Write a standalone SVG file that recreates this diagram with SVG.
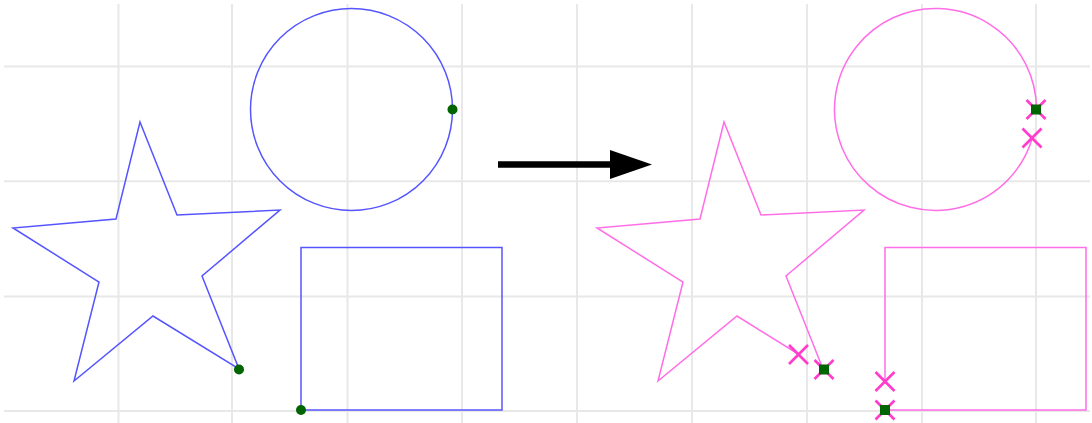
<svg xmlns="http://www.w3.org/2000/svg" width="1092" height="423" viewBox="0 0 1092 423">
<defs>
<style>
.grid line{stroke:#e8e8e8;stroke-width:2}
.src{fill:none;stroke:#5555ff;stroke-width:1.5;stroke-linejoin:miter}
.dst{fill:none;stroke:#ff6ee6;stroke-width:1.5;stroke-linejoin:miter}
.dot{fill:#006400}
.x{stroke:#ff3ccc;stroke-width:2.6;stroke-linecap:butt}
</style>
<g id="xmark"><line class="x" x1="-9.5" y1="-9.5" x2="9.5" y2="9.5"/><line class="x" x1="-9.5" y1="9.5" x2="9.5" y2="-9.5"/></g>
<rect id="sq" class="dot" x="-5" y="-5" width="10" height="10"/>
</defs>
<rect width="1092" height="423" fill="#ffffff"/>
<g class="grid" id="grid">
<line x1="118.5" y1="4" x2="118.5" y2="423"/>
<line x1="232" y1="4" x2="232" y2="423"/>
<line x1="347.5" y1="4" x2="347.5" y2="423"/>
<line x1="462" y1="4" x2="462" y2="423"/>
<line x1="577" y1="4" x2="577" y2="423"/>
<line x1="692" y1="4" x2="692" y2="423"/>
<line x1="807" y1="4" x2="807" y2="423"/>
<line x1="922" y1="4" x2="922" y2="423"/>
<line x1="1036" y1="4" x2="1036" y2="423"/>
<line x1="4" y1="66.5" x2="1090" y2="66.5"/>
<line x1="4" y1="181.3" x2="1090" y2="181.3"/>
<line x1="4" y1="296.5" x2="1090" y2="296.5"/>
<line x1="4" y1="411" x2="1090" y2="411"/>
</g>
<g id="left-star">
<polygon class="src" points="140,122 177,215 280,210 202,276 239,369 153,316 74,381 99,282 13,228 116,219"/>
<circle class="dot" cx="239" cy="369.5" r="5"/>
</g>
<g id="left-circle">
<circle class="src" cx="351.5" cy="109.5" r="101"/>
<circle class="dot" cx="452.5" cy="109.5" r="5"/>
</g>
<g id="left-rect">
<rect class="src" x="301" y="247.5" width="201" height="162.5"/>
<circle class="dot" cx="301" cy="410" r="5"/>
</g>
<g id="connectors">
<line x1="498" y1="164.5" x2="613" y2="164.5" stroke="#000" stroke-width="6.5"/>
<polygon points="610,150 652,164.5 610,179" fill="#000"/>
</g>
<g id="right-star">
<polyline class="dst" points="823,369 786,276 864,210 761,215 724,122 700,219 597,228 683,282 658,381 737,316 799,354.5"/>
<use href="#xmark" x="798.5" y="354.5"/>
<use href="#xmark" x="824" y="369.5"/>
<use href="#sq" x="824" y="369.5"/>
</g>
<g id="right-circle">
<path class="dst" d="M 1036.5 109.5 A 101 101 0 1 0 1032.3 138.3"/>
<use href="#xmark" x="1032" y="138"/>
<use href="#xmark" x="1036" y="109.5"/>
<use href="#sq" x="1036" y="109.5"/>
</g>
<g id="right-rect">
<polyline class="dst" points="885,410 1086,410 1086,247.5 885,247.5 885,382"/>
<use href="#xmark" x="885" y="381.5"/>
<use href="#xmark" x="885" y="410"/>
<use href="#sq" x="885" y="410"/>
</g>
</svg>
